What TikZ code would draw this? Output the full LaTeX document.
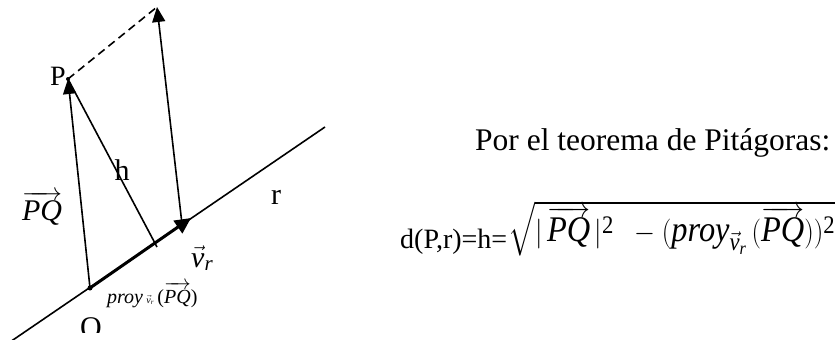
\documentclass[tikz,border=0pt]{standalone}
\usepackage{amsmath}
\usepackage{graphicx}
\usepackage{fontspec}
\setmainfont{Liberation Serif}
\usetikzlibrary{arrows.meta}
\newcommand{\vPQ}{\overrightarrow{\text{\itshape PQ}}}
\newcommand{\vvr}{\vec{\text{\itshape v}}_{\text{\itshape r}}}
\begin{document}
\begin{tikzpicture}[x=1pt,y=-1pt,
  thinline/.style={line width=1.6pt},
  thickline/.style={line width=3pt},
  tip/.style={-{Triangle[length=15pt,width=13pt]}},
  lab/.style={inner sep=0pt,font=\fontsize{30}{36}\selectfont},
  smalllab/.style={inner sep=0pt,font=\fontsize{20}{24}\selectfont},
  dot/.style={circle,fill=black,inner sep=0pt,minimum size=5pt}]
\useasboundingbox (0,0) rectangle (836,340);
% points
\coordinate (rA) at (10,342);
\coordinate (rB) at (325,127);
\node[dot] (O) at (90,288) {};
\node[dot,minimum size=4pt] (P) at (68,79) {};
\coordinate (Vt) at (191,218);
\coordinate (Vb) at (182,224);
\coordinate (F) at (157,247);
\coordinate (T) at (157,7);
% line r
\draw[thinline] (rA) -- (rB);
% v_r
\draw[thickline,-{Triangle[length=16pt,width=15pt]}] (O.center) -- (Vt);
% O -> P
\draw[thinline,tip] (O.center) -- (P.center);
% h
\draw[thinline] (P.center) -- (F);
% translated vector
\draw[thinline,tip] (Vb) -- (T);
% dashed
\draw[thinline,dash pattern=on 8pt off 5pt] (P.center) -- (T);
% labels
\node[lab,font=\fontsize{28}{32}\selectfont] (Plab) at (58,76) {P};
\node[lab] (hlab) at (122,170) {h};
\node[lab] (PQlab) at (42,208) {$\vPQ$};
\node[lab] (rlab) at (276,197) {r};
\node[lab,anchor=base west] (vlab) at (191,267) {$\vvr$};
\node[smalllab,anchor=base west] (proylab) at (107,303) {\itshape proy\,{\fontsize{10}{12}\selectfont$\vvr$}\,\upshape(\itshape$\vPQ$\upshape)};
\begin{scope}
\clip (0,0) rectangle (836,332);
\node[lab,anchor=base] (Olab) at (91,337) {O};
\end{scope}
% right side
\node[lab,font=\fontsize{31.5}{36}\selectfont,anchor=base west] (txt) at (475,150) {Por el teorema de Pitágoras:};
\node[lab,font=\fontsize{28}{34}\selectfont,anchor=base west] (form1) at (400,248) {d(P,r)=h=};
\node[lab,anchor=north west] (form2) at (508,201) {\resizebox*{327pt}{55pt}{\fontsize{30}{36}\selectfont$\sqrt{|\,\vPQ\,|^{\text{2}}\;\;-(\text{\itshape proy}_{\vvr}\,(\vPQ))^{\text{2}}}$}};
\end{tikzpicture}
\end{document}
